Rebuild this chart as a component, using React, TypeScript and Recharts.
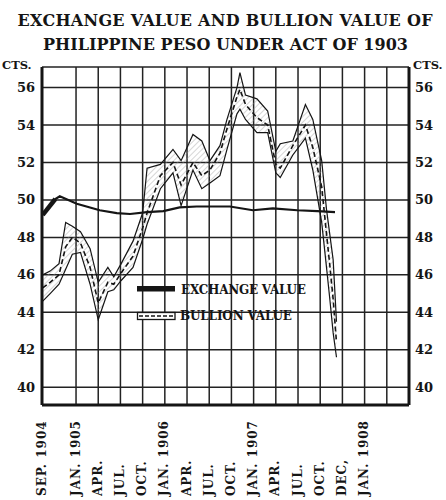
import React from "react";
import { ComposedChart, Line, Area, XAxis, YAxis, CartesianGrid } from "recharts";

const titleLines = ["EXCHANGE VALUE AND BULLION VALUE OF", "PHILIPPINE PESO UNDER ACT OF 1903"];
const unitLabel = "CTS.";
const legendLabels = ["EXCHANGE VALUE", "BULLION VALUE"];

// x = months counted from JAN. 1905 (chart's own spacing)
const xTickValues = [-4.6, 0, 3, 6, 9, 12, 15, 18, 21, 24, 27, 30, 33, 36, 39, 42];
const xTickLabels = ["SEP. 1904", "JAN. 1905", "APR.", "JUL.", "OCT.", "JAN. 1906", "APR.", "JUL.", "OCT.", "JAN. 1907", "APR.", "JUL.", "OCT.", "DEC,", "JAN. 1908", ""];
const yTickValues = [40, 42, 44, 46, 48, 50, 52, 54, 56];
const yMinorTicks = [41, 43, 45, 47, 49, 51, 53, 55];

const exchangeMonths = [-4.5, -2.8, -2.2, 0.1, 3.2, 5.5, 7.3, 9.6, 11.8, 14.0, 16.3, 20.8, 23.9, 26.6, 29.9, 32.6, 35.0];
const exchangeValues = [49.2, 50.05, 50.2, 49.8, 49.45, 49.3, 49.25, 49.35, 49.4, 49.6, 49.65, 49.65, 49.45, 49.55, 49.45, 49.4, 49.35];
const exchangeStartMonths = [-4.5, -2.8];
const exchangeStartValues = [49.2, 50.05];

const bullionMonths = [-4.5, -3.5, -2.3, -1.4, -0.5, 0.6, 1.9, 3.0, 4.3, 5.1, 6.1, 7.7, 9.0, 9.6, 11.4, 13.1, 14.2, 15.8, 17.0, 18.1, 19.45, 20.4, 21.75, 22.15, 22.9, 24.45, 25.9, 27.0, 27.6, 29.3, 31.0, 32.0, 33.2, 33.85, 34.3, 34.75, 35.2];
const bullionHigh = [46.0, 46.2, 46.6, 48.8, 48.6, 48.3, 47.4, 45.6, 46.4, 45.9, 46.6, 47.8, 49.3, 51.7, 51.9, 52.7, 52.1, 53.5, 53.15, 52.1, 52.9, 54.3, 56.0, 56.8, 55.6, 55.4, 54.75, 52.6, 53.0, 53.15, 55.1, 54.3, 52.1, 49.5, 48.15, 46.8, 43.5];
const bullionMid = [45.3, 45.6, 46.0, 47.5, 48.0, 47.7, 46.4, 44.5, 45.6, 45.5, 46.1, 47.0, 48.5, 49.3, 51.3, 52.0, 50.8, 52.0, 51.3, 51.6, 52.5, 53.8, 55.5, 55.9, 55.1, 54.4, 54.0, 51.9, 51.7, 52.9, 54.0, 52.8, 50.7, 48.2, 46.5, 44.7, 42.4];
const bullionLow = [44.6, 45.0, 45.5, 46.3, 47.1, 47.2, 45.5, 43.6, 45.1, 45.2, 45.7, 46.4, 47.9, 48.7, 50.6, 51.45, 49.7, 51.6, 50.6, 50.9, 51.3, 52.7, 54.6, 54.85, 54.3, 53.6, 53.6, 51.45, 51.2, 52.4, 53.3, 51.6, 48.8, 46.4, 44.7, 42.9, 41.6];

const exchangeData = exchangeMonths.map((m, i) => ({ m, v: exchangeValues[i] }));
const exchangeStartData = exchangeStartMonths.map((m, i) => ({ m, v: exchangeStartValues[i] }));
const bullionData = bullionMonths.map((m, i) => ({
  m,
  high: bullionHigh[i],
  mid: bullionMid[i],
  low: bullionLow[i],
  range: [bullionLow[i], bullionHigh[i]],
}));

const FONT = "'DejaVu Serif', serif";
const INK = "#151515";
const Y_DOMAIN: [number, number] = [39.05, 57.1];
const X_DOMAIN: [number, number] = [-4.6, 45];

const LeftTick = (props: any) => (
  <text x={props.x} y={props.y} dy={4.5} textAnchor="end" fontFamily={FONT} fontWeight="bold" fontSize={13} fill={INK}>
    {props.payload.value}
  </text>
);
const RightTick = (props: any) => (
  <text x={props.x} y={props.y} dy={4.5} textAnchor="start" fontFamily={FONT} fontWeight="bold" fontSize={13} fill={INK}>
    {props.payload.value}
  </text>
);
const EmptyTick = () => <g />;
const BottomTick = (props: any) => {
  const idx = xTickValues.indexOf(props.payload.value);
  const label = idx >= 0 ? xTickLabels[idx] : "";
  const tx = props.x + 3.5;
  const ty = props.y + 91;
  return (
    <text
      x={tx}
      y={ty}
      transform={`rotate(-90, ${tx}, ${ty})`}
      textAnchor="start"
      fontFamily={FONT}
      fontWeight="bold"
      fontSize={12}
      letterSpacing={1}
      fill={INK}
    >
      {label}
    </text>
  );
};

export default function App() {
  return (
    <div style={{ position: "absolute", left: 0, top: 0, width: 446, height: 500, background: "#fff" }}>
      <ComposedChart width={446} height={500} margin={{ top: 67, right: 0, bottom: 0, left: 0 }}>
        <defs>
          <pattern id="hatch" width="4" height="4" patternUnits="userSpaceOnUse" patternTransform="rotate(45)">
            <line x1="0" y1="0" x2="0" y2="4" stroke="#999" strokeWidth="0.8" />
          </pattern>
        </defs>
        <CartesianGrid xAxisId="b" yAxisId="L" stroke="#222" strokeWidth={1.5} />
        <XAxis
          xAxisId="b"
          type="number"
          dataKey="m"
          domain={X_DOMAIN}
          ticks={xTickValues}
          interval={0}
          allowDataOverflow
          height={95}
          tickLine={false}
          tickSize={0}
          tickMargin={0}
          axisLine={{ stroke: INK, strokeWidth: 3 }}
          tick={BottomTick}
        />
        <XAxis
          xAxisId="t"
          orientation="top"
          type="number"
          dataKey="m"
          domain={X_DOMAIN}
          allowDataOverflow
          height={0}
          tickLine={false}
          axisLine={{ stroke: INK, strokeWidth: 3 }}
          tick={EmptyTick}
        />
        <YAxis
          yAxisId="L"
          domain={Y_DOMAIN}
          ticks={yTickValues}
          interval={0}
          allowDataOverflow
          width={42}
          tickLine={false}
          tickSize={0}
          tickMargin={7}
          axisLine={{ stroke: INK, strokeWidth: 3 }}
          tick={LeftTick}
        />
        <YAxis
          yAxisId="R"
          orientation="right"
          domain={Y_DOMAIN}
          ticks={yTickValues}
          interval={0}
          allowDataOverflow
          width={37}
          tickLine={false}
          tickSize={0}
          tickMargin={6}
          axisLine={{ stroke: INK, strokeWidth: 3 }}
          tick={RightTick}
        />
        <YAxis
          yAxisId="LM"
          mirror
          domain={Y_DOMAIN}
          ticks={yMinorTicks}
          interval={0}
          allowDataOverflow
          width={0}
          tickSize={18}
          tickLine={{ stroke: INK, strokeWidth: 1.6 }}
          axisLine={false}
          tick={EmptyTick}
        />
        <YAxis
          yAxisId="RM"
          orientation="right"
          mirror
          domain={Y_DOMAIN}
          ticks={yMinorTicks}
          interval={0}
          allowDataOverflow
          width={0}
          tickSize={18}
          tickLine={{ stroke: INK, strokeWidth: 1.6 }}
          axisLine={false}
          tick={EmptyTick}
        />
        <Area
          data={bullionData}
          xAxisId="b"
          yAxisId="L"
          dataKey="range"
          type="linear"
          stroke="none"
          fill="url(#hatch)"
          fillOpacity={1}
          isAnimationActive={false}
        />
        <Line data={bullionData} xAxisId="b" yAxisId="L" dataKey="high" type="linear" stroke={INK} strokeWidth={1.2} dot={false} isAnimationActive={false} />
        <Line data={bullionData} xAxisId="b" yAxisId="L" dataKey="low" type="linear" stroke={INK} strokeWidth={1.2} dot={false} isAnimationActive={false} />
        <Line data={bullionData} xAxisId="b" yAxisId="L" dataKey="mid" type="linear" stroke={INK} strokeWidth={1.6} strokeDasharray="5 3" dot={false} isAnimationActive={false} />
        <Line data={exchangeData} xAxisId="b" yAxisId="L" dataKey="v" type="linear" stroke={INK} strokeWidth={2.2} dot={false} isAnimationActive={false} />
        <Line data={exchangeStartData} xAxisId="b" yAxisId="L" dataKey="v" type="linear" stroke={INK} strokeWidth={4.5} dot={false} isAnimationActive={false} />
      </ComposedChart>
      <svg width={446} height={500} style={{ position: "absolute", left: 0, top: 0, pointerEvents: "none" }}>
        <text x={225} y={26} textAnchor="middle" fontFamily={FONT} fontWeight="bold" fontSize={16} fill={INK} textLength={415} lengthAdjust="spacing">
          {titleLines[0]}
        </text>
        <text x={225.5} y={50} textAnchor="middle" fontFamily={FONT} fontWeight="bold" fontSize={16} fill={INK} textLength={365} lengthAdjust="spacing">
          {titleLines[1]}
        </text>
        <text x={2} y={69} fontFamily={FONT} fontWeight="bold" fontSize={11.5} fill={INK}>{unitLabel}</text>
        <text x={413} y={69} fontFamily={FONT} fontWeight="bold" fontSize={11.5} fill={INK}>{unitLabel}</text>
        <rect x={137} y={286} width={38} height={5.5} fill={INK} />
        <text x={181} y={293.5} fontFamily={FONT} fontWeight="bold" fontSize={12} fill={INK} textLength={125} lengthAdjust="spacing">
          {legendLabels[0]}
        </text>
        <rect x={137.5} y={312.5} width={37.5} height={7} fill="#fff" stroke={INK} strokeWidth={1.3} />
        <line x1={139} y1={316} x2={174} y2={316} stroke={INK} strokeWidth={1.4} strokeDasharray="4 2" />
        <text x={180} y={320} fontFamily={FONT} fontWeight="bold" fontSize={12} fill={INK} textLength={112} lengthAdjust="spacing">
          {legendLabels[1]}
        </text>
      </svg>
    </div>
  );
}
